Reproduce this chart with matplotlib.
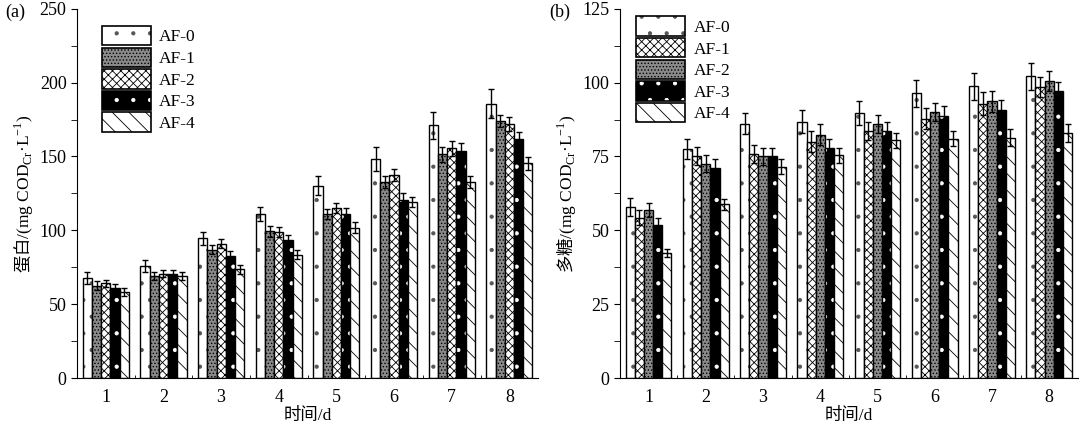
import numpy as np
import matplotlib
matplotlib.use('Agg')
from matplotlib import pyplot as plt
import matplotlib.patches as mpatches

plt.rcParams['font.family'] = ['Liberation Serif', 'Noto Sans CJK SC']
plt.rcParams['mathtext.fontset'] = 'custom'
plt.rcParams['mathtext.rm'] = 'Liberation Serif'
plt.rcParams['mathtext.sf'] = 'Noto Sans CJK SC'
plt.rcParams['hatch.linewidth'] = 0.6

days = [1, 2, 3, 4, 5, 6, 7, 8]
series = ['AF-0', 'AF-1', 'AF-2', 'AF-3', 'AF-4']

# (a) protein, mg COD/L
protein = [
    [67.7, 75.7, 94.7, 111.3, 130.2, 148.4, 171.1, 185.8],
    [62.5, 69.3, 87.0, 99.3, 111.3, 132.5, 151.5, 173.8],
    [64.3, 70.9, 90.9, 98.8, 115.2, 137.4, 155.6, 172.0],
    [61.3, 70.4, 82.5, 93.6, 111.3, 120.4, 153.8, 161.8],
    [58.4, 69.3, 73.8, 83.6, 102.0, 119.3, 132.5, 145.4],
]
protein_err = [
    [4.0, 4.0, 4.5, 4.7, 6.5, 8.0, 9.0, 9.5],
    [3.0, 2.5, 3.0, 3.5, 3.5, 4.0, 5.0, 4.0],
    [2.5, 2.5, 3.0, 3.5, 3.5, 4.0, 5.0, 4.5],
    [2.5, 3.0, 3.5, 3.0, 4.0, 5.0, 5.0, 5.0],
    [2.5, 2.5, 3.0, 3.0, 3.5, 3.5, 4.0, 4.5],
]

# (b) polysaccharide, mg COD/L
sugar = [
    [58.0, 77.5, 86.1, 86.8, 89.7, 96.3, 98.7, 102.1],
    [54.3, 75.1, 75.8, 80.0, 83.5, 87.8, 92.9, 98.5],
    [56.9, 72.6, 75.0, 82.4, 86.1, 90.0, 93.7, 100.5],
    [51.8, 71.2, 75.0, 77.9, 83.7, 88.6, 90.6, 97.2],
    [42.4, 58.8, 71.5, 75.4, 80.5, 81.0, 81.4, 83.0],
]
sugar_err = [
    [3.0, 3.5, 3.5, 4.0, 4.0, 4.5, 4.5, 4.5],
    [2.5, 3.0, 3.0, 3.5, 3.0, 3.5, 4.0, 3.5],
    [2.5, 3.0, 3.0, 3.5, 3.0, 3.0, 3.5, 3.5],
    [2.5, 3.0, 3.0, 3.0, 3.0, 3.5, 3.5, 3.0],
    [1.5, 2.0, 2.5, 2.5, 2.5, 2.5, 3.0, 3.0],
]

# fill styles: (face, hatch, hatch colour)
dots = ('white', '.', '#555555')
grey = ('#8a8a8a', '.....', 'black')
cross = ('white', 'xxxx', 'black')
black = ('black', '.', 'white')
wave = ('white', '\\\\', 'black')
styles_a = [dots, grey, cross, black, wave]
styles_b = [dots, cross, grey, black, wave]


def panel(ax, vals, errs, styles, ymax, ystep, ylabel, tag, leg_anchor):
    x = np.array(days)
    w = 0.16
    handles = []
    for i in range(5):
        face, hatch, hc = styles[i]
        pos = x + (i - 2) * w
        ax.bar(pos, vals[i], w, color=face, edgecolor=hc, hatch=hatch, linewidth=0)
        ax.bar(pos, vals[i], w, fill=False, edgecolor='k', linewidth=1,
               yerr=errs[i], capsize=2.5,
               error_kw=dict(ecolor='k', elinewidth=1, capthick=1))
        handles.append((mpatches.Patch(facecolor=face, edgecolor=hc, hatch=hatch, linewidth=0),
                        mpatches.Patch(fill=False, edgecolor='k', linewidth=1.2)))
    ax.legend(handles, series, loc='upper left', bbox_to_anchor=leg_anchor,
              frameon=False, borderpad=0, borderaxespad=0, handlelength=2.8,
              handleheight=1.35, labelspacing=0.12, handletextpad=0.5, fontsize=12.5)
    ax.set_xlim(0.5, 8.5)
    ax.set_ylim(0, ymax)
    ax.set_xticks(days)
    ax.set_xticks(np.arange(1.5, 8.5, 1.0), minor=True)
    ax.set_yticks(np.arange(0, ymax + 1, ystep))
    ax.set_yticks(np.arange(ystep / 2, ymax, ystep), minor=True)
    ax.tick_params(axis='x', which='major', length=0, labelsize=13, pad=8)
    ax.tick_params(axis='x', which='minor', direction='in', length=2)
    ax.tick_params(axis='y', which='both', direction='out', length=4, labelsize=13)
    for s in ['top', 'right']:
        ax.spines[s].set_visible(False)
    ax.set_xlabel('时间/d', fontsize=12.5, labelpad=1)
    ax.set_ylabel(ylabel, fontsize=12.5, labelpad=3)
    ax.text(-0.155, 0.99, tag, transform=ax.transAxes, fontsize=13, va='center')


fig = plt.figure(figsize=(10.8, 4.29), dpi=100)
ax1 = fig.add_axes([0.0713, 0.118, 0.427, 0.862])
ax2 = fig.add_axes([0.574, 0.118, 0.424, 0.862])

panel(ax1, protein, protein_err, styles_a, 250, 50,
      '$\\mathsf{蛋白}$/(mg COD$_{\\rm Cr}$·L$^{-1}$)', '(a)', (0.054, 0.953))
panel(ax2, sugar, sugar_err, styles_b, 125, 25,
      '$\\mathsf{多糖}$/(mg COD$_{\\rm Cr}$·L$^{-1}$)', '(b)', (0.036, 0.979))

plt.savefig('out.png', dpi=100)
